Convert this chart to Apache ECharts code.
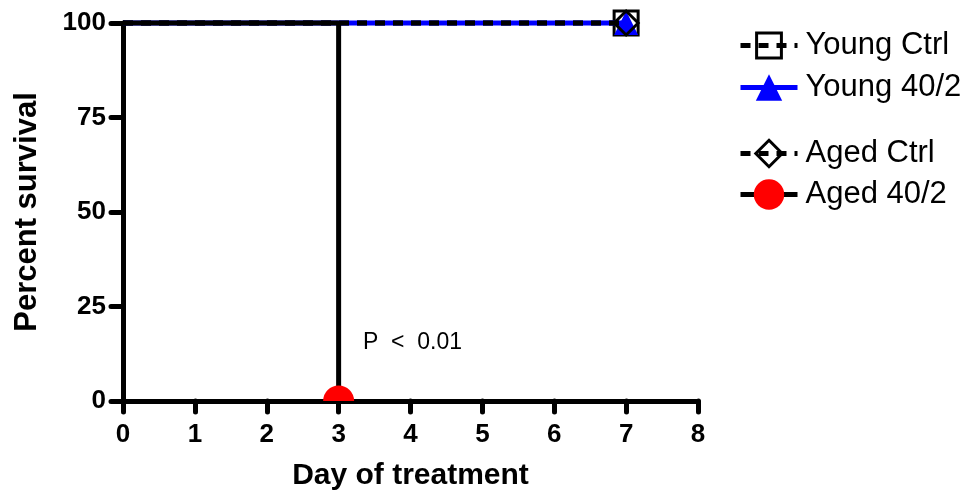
<!DOCTYPE html>
<html>
<head>
<meta charset="utf-8">
<script src="https://cdn.jsdelivr.net/npm/echarts@6/dist/echarts.min.js"></script>
<style>
  html, body { margin: 0; padding: 0; background: #fff; }
  #chart { width: 971px; height: 502px; }
</style>
</head>
<body>
<div id="chart"></div>
<script>
// Survival curves (percent surviving by day of treatment)
const seriesNames = ['Young Ctrl', 'Young 40/2', 'Aged Ctrl', 'Aged 40/2'];
const youngCtrl = [[0, 100], [7, 100]];
const young402 = [[0, 100], [7, 100]];
const agedCtrl = [[0, 100], [7, 100]];
const aged402 = [[0, 100], [3, 0]];
const xTicks = [0, 1, 2, 3, 4, 5, 6, 7, 8];
const yTicks = [0, 25, 50, 75, 100];
const pValueText = 'P  <  0.01';

const FONT = '"Liberation Sans", Arial, sans-serif';
const chart = echarts.init(document.getElementById('chart'), null, { renderer: 'canvas' });

// only the last point of each curve carries a marker
function endMarked(points) {
  return points.map((p, i) => i === points.length - 1 ? { value: p } : { value: p, symbol: 'none' });
}

// upper half of a disc: the part of the marker that sits above the x axis
const halfCircle = 'path://M0,10 A10,10 0 0 1 20,10 Z';

function legendFor(name, top, itemHeight, itemStyle) {
  return {
    orient: 'vertical',
    left: 738,
    top: top,
    padding: 0,
    itemWidth: 57,
    itemHeight: itemHeight,
    selectedMode: false,
    data: [name],
    lineStyle: { width: 5 },
    itemStyle: itemStyle,
    textStyle: { fontFamily: FONT, fontSize: 31, color: '#000', padding: [0, 0, 0, 3] }
  };
}

const openStyle = { color: 'rgba(255,255,255,0)', borderColor: '#000', borderWidth: 3 };

const axisTitle = { fontFamily: FONT, fontSize: 30, fontWeight: 'bold', color: '#000' };
const tickLabel = { fontFamily: FONT, fontSize: 26, fontWeight: 'bold', color: '#000' };
const axisLineStyle = { color: '#000', width: 5, cap: 'round' };

chart.setOption({
  animation: false,
  grid: { left: 123, right: 273, top: 23, bottom: 101 },
  legend: [
    legendFor(seriesNames[0], 30, 31, openStyle),
    legendFor(seriesNames[1], 72, 33, { borderWidth: 0 }),
    legendFor(seriesNames[2], 138, 33, openStyle),
    legendFor(seriesNames[3], 179, 38, { borderWidth: 0 })
  ],
  xAxis: {
    type: 'value',
    min: xTicks[0], max: xTicks[xTicks.length - 1], interval: 1,
    name: 'Day of treatment',
    nameLocation: 'middle', nameGap: 60,
    nameTextStyle: axisTitle,
    axisLine: { onZero: false, lineStyle: axisLineStyle },
    axisTick: { length: 11, lineStyle: axisLineStyle },
    axisLabel: Object.assign({ margin: 21 }, tickLabel),
    splitLine: { show: false }
  },
  yAxis: {
    type: 'value',
    min: yTicks[0], max: yTicks[yTicks.length - 1], interval: 25,
    name: 'Percent survival',
    nameLocation: 'middle', nameGap: 80,
    nameTextStyle: Object.assign({}, axisTitle, { fontSize: 31 }),
    axisLine: { onZero: false, lineStyle: axisLineStyle },
    axisTick: { length: 12, lineStyle: axisLineStyle },
    axisLabel: Object.assign({ margin: 17 }, tickLabel),
    splitLine: { show: false }
  },
  graphic: [{
    type: 'text', left: 363, top: 331,
    style: { text: pValueText, fontFamily: FONT, fontSize: 23, fill: '#000' }
  }],
  series: [
    {
      name: seriesNames[0], type: 'line', data: endMarked(youngCtrl),
      symbol: 'rect', symbolSize: 24, clip: false,
      lineStyle: { color: '#000', width: 5, type: [10, 8] },
      itemStyle: openStyle,
      z: 2
    },
    {
      name: seriesNames[1], type: 'line', data: endMarked(young402),
      symbol: 'triangle', symbolSize: 24, clip: false,
      lineStyle: { color: '#0000ff', width: 5 },
      itemStyle: { color: '#0000ff' },
      z: 3
    },
    {
      name: seriesNames[2], type: 'line', data: endMarked(agedCtrl),
      symbol: 'diamond', symbolSize: 24, clip: false,
      lineStyle: { color: '#000', width: 5, type: [10, 8] },
      itemStyle: openStyle,
      z: 4
    },
    {
      name: seriesNames[3], type: 'line', step: 'end',
      data: aged402.map((p, i) => i === 0
        ? { value: p, symbol: 'none' }
        : { value: p, symbol: halfCircle, symbolSize: [31, 15.5], symbolOffset: [0, -7.75] }),
      symbol: 'circle', symbolSize: 31, clip: false,
      lineStyle: { color: '#000', width: 5 },
      itemStyle: { color: '#ff0000' },
      z: 5
    }
  ]
});
</script>
</body>
</html>
